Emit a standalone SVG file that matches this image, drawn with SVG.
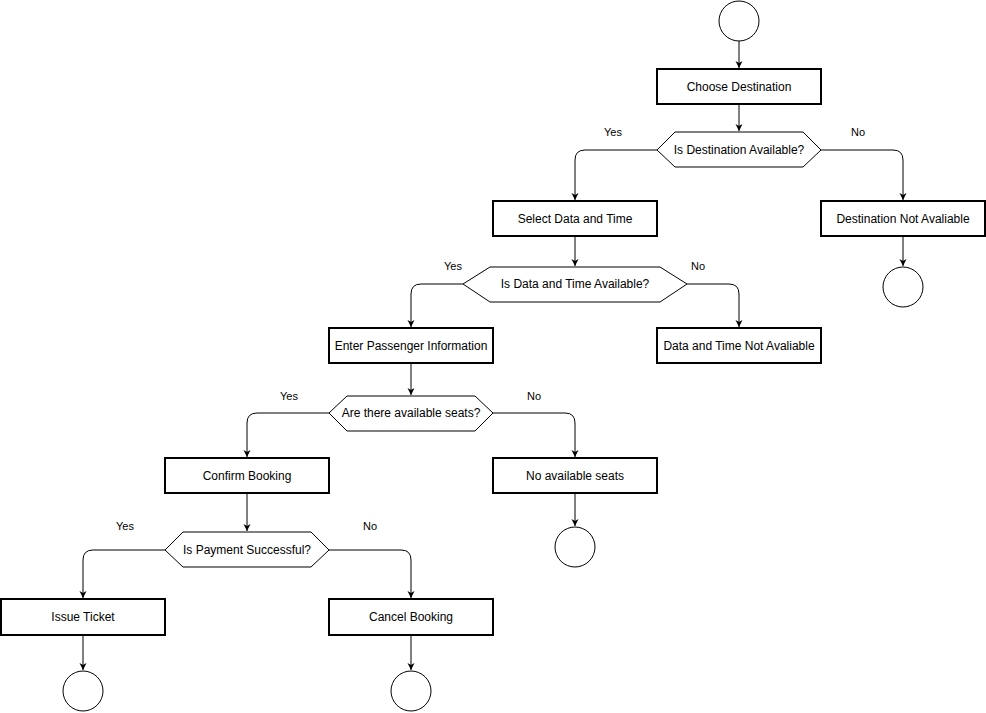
<svg xmlns="http://www.w3.org/2000/svg" width="986" height="713" viewBox="0 0 986 713">
<style>
.n{fill:#fff;stroke:#000;stroke-width:2}
.d{fill:#fff;stroke:#000;stroke-width:1}
.c{fill:#fff;stroke:#000;stroke-width:1}
.e{fill:none;stroke:#000;stroke-width:1;marker-end:url(#a)}
text{font-family:"Liberation Sans",Arial,sans-serif;font-size:12px;text-anchor:middle;dominant-baseline:central;fill:#000}
.l{font-size:11px}
</style>
<defs><marker id="a" markerWidth="8" markerHeight="8" refX="7" refY="4" orient="auto" markerUnits="userSpaceOnUse"><path d="M0,0.5 L7,4 L0,7.5 L2,4 Z" fill="#000"/></marker></defs>
<g id="edges">
<path class="e" d="M739,41 V68"/>
<path class="e" d="M739,104 V131"/>
<path class="e" d="M657,150 H585 Q575,150 575,160 V200"/>
<path class="e" d="M821,150 H893 Q903,150 903,160 V200"/>
<path class="e" d="M903,236 V266"/>
<path class="e" d="M575,236 V266"/>
<path class="e" d="M463,284 H421 Q411,284 411,294 V327"/>
<path class="e" d="M687,284 H729 Q739,284 739,294 V327"/>
<path class="e" d="M411,363 V395"/>
<path class="e" d="M329,413 H257 Q247,413 247,423 V457"/>
<path class="e" d="M493,413 H565 Q575,413 575,423 V457"/>
<path class="e" d="M575,493 V526"/>
<path class="e" d="M247,493 V531"/>
<path class="e" d="M165,550 H93 Q83,550 83,560 V598"/>
<path class="e" d="M329,550 H401 Q411,550 411,560 V598"/>
<path class="e" d="M83,635 V670"/>
<path class="e" d="M411,635 V670"/>
<text class="l" x="613" y="132">Yes</text><text class="l" x="858" y="132">No</text>
<text class="l" x="453" y="266">Yes</text><text class="l" x="698" y="266">No</text>
<text class="l" x="289" y="396">Yes</text><text class="l" x="534" y="396">No</text>
<text class="l" x="125" y="526">Yes</text><text class="l" x="370" y="526">No</text>
</g>
<g id="start"><circle class="c" cx="739" cy="21" r="20"/></g>
<g id="choose"><rect class="n" x="657" y="69" width="164" height="35"/><text x="739" y="87">Choose Destination</text></g>
<g id="q1"><polygon class="d" points="657,150 675,132 803,132 821,150 803,167 675,167"/><text x="739" y="150">Is Destination Available?</text></g>
<g id="select"><rect class="n" x="493" y="201" width="164" height="35"/><text x="575" y="219">Select Data and Time</text></g>
<g id="destna"><rect class="n" x="821" y="201" width="164" height="35"/><text x="903" y="219">Destination Not Avaliable</text></g>
<g id="end1"><circle class="c" cx="903" cy="287" r="20"/></g>
<g id="q2"><polygon class="d" points="463,284 490,267 660,267 687,284 660,302 490,302"/><text x="575" y="284">Is Data and Time Available?</text></g>
<g id="enter"><rect class="n" x="329" y="328" width="164" height="35"/><text x="411" y="346">Enter Passenger Information</text></g>
<g id="dtna"><rect class="n" x="657" y="328" width="164" height="35"/><text x="739" y="346">Data and Time Not Avaliable</text></g>
<g id="q3"><polygon class="d" points="329,413 347,396 475,396 493,413 475,431 347,431"/><text x="411" y="413">Are there available seats?</text></g>
<g id="confirm"><rect class="n" x="165" y="458" width="164" height="35"/><text x="247" y="476">Confirm Booking</text></g>
<g id="noseats"><rect class="n" x="493" y="458" width="164" height="35"/><text x="575" y="476">No available seats</text></g>
<g id="end2"><circle class="c" cx="575" cy="547" r="20"/></g>
<g id="q4"><polygon class="d" points="165,550 183,532 311,532 329,550 311,567 183,567"/><text x="247" y="550">Is Payment Successful?</text></g>
<g id="issue"><rect class="n" x="1" y="599" width="164" height="36"/><text x="83" y="617">Issue Ticket</text></g>
<g id="cancel"><rect class="n" x="329" y="599" width="164" height="36"/><text x="411" y="617">Cancel Booking</text></g>
<g id="end3"><circle class="c" cx="83" cy="691" r="20"/></g>
<g id="end4"><circle class="c" cx="411" cy="691" r="20"/></g>
</svg>
